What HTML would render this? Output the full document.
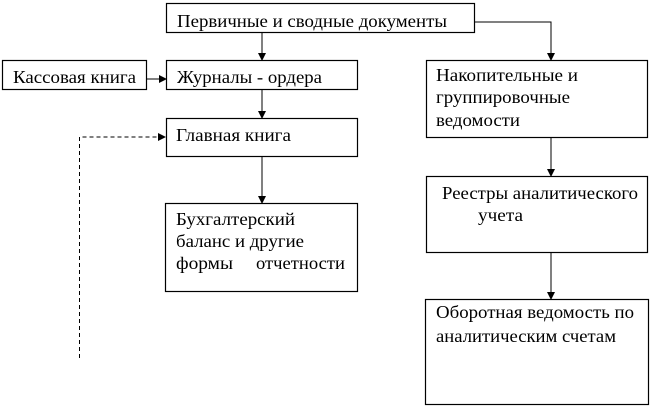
<!DOCTYPE html>
<html><head><meta charset="utf-8"><style>
html,body{margin:0;padding:0;background:#fff;width:658px;height:407px;overflow:hidden}
svg text{font-family:"Liberation Serif","Noto Serif CJK SC",serif;font-size:18px;fill:#000}
</style></head><body>
<svg width="658" height="407" viewBox="0 0 658 407" xmlns="http://www.w3.org/2000/svg">
<defs><marker id="a" markerWidth="8" markerHeight="8" refX="7" refY="4" orient="auto" markerUnits="userSpaceOnUse"><path d="M0,0 L8,4 L0,8 z" fill="#000"/></marker></defs>
<g fill="none" stroke="#000" stroke-width="1.2">
<rect x="166.5" y="3.5" width="308" height="29"/>
<rect x="2.5" y="60.5" width="144" height="29"/>
<rect x="166.5" y="60.5" width="191" height="29"/>
<rect x="166.5" y="118.5" width="191" height="38"/>
<rect x="165.5" y="203.5" width="192" height="88"/>
<rect x="426.5" y="60.5" width="221" height="77"/>
<rect x="426.5" y="176.5" width="221" height="76"/>
<rect x="425.5" y="299.5" width="223" height="105"/>
<g stroke-width="1">
<line x1="262" y1="32" x2="262" y2="60" marker-end="url(#a)"/>
<polyline points="475,22 551,22 551,60" marker-end="url(#a)"/>
<line x1="146" y1="79" x2="166" y2="79" marker-end="url(#a)"/>
<line x1="262" y1="89" x2="262" y2="118" marker-end="url(#a)"/>
<line x1="262" y1="156" x2="262" y2="203" marker-end="url(#a)"/>
<line x1="551" y1="137" x2="551" y2="176" marker-end="url(#a)"/>
<line x1="551" y1="252" x2="551" y2="299" marker-end="url(#a)"/>
<polyline points="79.5,358 79.5,137 165,137" stroke-dasharray="4,3" marker-end="url(#a)"/>
</g></g>
<text x="177" y="27" textLength="270" lengthAdjust="spacingAndGlyphs">Первичные и сводные документы</text>
<text x="13" y="83" textLength="123" lengthAdjust="spacingAndGlyphs">Кассовая книга</text>
<text x="177" y="83" textLength="145" lengthAdjust="spacingAndGlyphs">Журналы - ордера</text>
<text x="176" y="141" textLength="115" lengthAdjust="spacingAndGlyphs">Главная книга</text>
<text x="176" y="225" textLength="119" lengthAdjust="spacingAndGlyphs">Бухгалтерский</text>
<text x="176" y="247" textLength="128" lengthAdjust="spacingAndGlyphs">баланс и другие</text>
<text x="176" y="269" textLength="57" lengthAdjust="spacingAndGlyphs">формы</text>
<text x="256" y="269" textLength="89" lengthAdjust="spacingAndGlyphs">отчетности</text>
<text x="436" y="81" textLength="142" lengthAdjust="spacingAndGlyphs">Накопительные и</text>
<text x="436" y="103" textLength="134" lengthAdjust="spacingAndGlyphs">группировочные</text>
<text x="436" y="126" textLength="84" lengthAdjust="spacingAndGlyphs">ведомости</text>
<text x="442" y="199" textLength="196" lengthAdjust="spacingAndGlyphs">Реестры аналитического</text>
<text x="478" y="221" textLength="45" lengthAdjust="spacingAndGlyphs">учета</text>
<text x="436" y="318" textLength="198" lengthAdjust="spacingAndGlyphs">Оборотная ведомость по</text>
<text x="436" y="342" textLength="180" lengthAdjust="spacingAndGlyphs">аналитическим счетам</text>
</svg>
</body></html>
